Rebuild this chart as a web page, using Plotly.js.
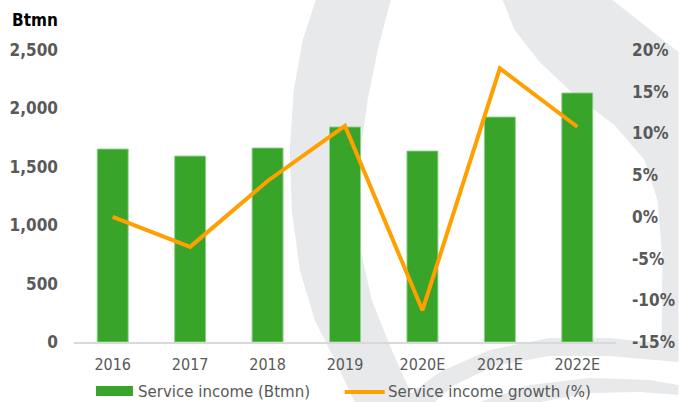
<!DOCTYPE html>
<html>
<head>
<meta charset="utf-8">
<script src="https://cdn.plot.ly/plotly-3.0.1.min.js"></script>
<style>html,body{margin:0;padding:0;background:#fff;}#chart{width:679px;height:402px;}</style>
</head>
<body>
<div id="chart"></div>
<script>
// ---- data ----
const years = ['2016', '2017', '2018', '2019', '2020E', '2021E', '2022E'];
const serviceIncome = [1652, 1592, 1661, 1841, 1635, 1926, 2132];   // Btmn
const serviceGrowth = [0.0, -3.6, 4.3, 10.9, -11.2, 17.8, 10.8];    // %
const seriesNames = ['Service income (Btmn)', 'Service income growth (%)'];
const leftTicks = [0, 500, 1000, 1500, 2000, 2500];
const leftTickText = ['0', '500', '1,000', '1,500', '2,000', '2,500'];
const rightTicks = [-15, -10, -5, 0, 5, 10, 15, 20];
const rightTickText = ['-15%', '-10%', '-5%', '0%', '5%', '10%', '15%', '20%'];
const unitLabel = 'Btmn';

// ---- geometry helpers (pixel -> paper) ----
const W = 679, H = 402;
const M = {l: 74, r: 62.5, t: 50, b: 60};
const pw = W - M.l - M.r, ph = H - M.t - M.b;
const px = x => (x - M.l) / pw;
const py = y => (H - M.b - y) / ph;
function poly(pts) {
  return pts.map((p, i) => (i ? 'L' : 'M') + px(p[0]).toFixed(4) + ',' + py(p[1]).toFixed(4)).join(' ') + ' Z';
}
const wm = '#e8e9eb';
const wmShapes = [
  [[316,0],[303,40],[294,90],[290,150],[292,210],[300,270],[315,320],[335,360],[355,402],
   [415,402],[392,350],[372,300],[361,250],[358,200],[361,150],[368,100],[378,50],[391,0]],
  [[503,0],[613,0],[679,52],[679,352],[662,352],[663,260],[658,200],[645,160],[615,125],[575,95],[540,62],[515,30]],
  [[400,402],[440,372],[490,350],[550,338],[610,338],[679,345],[679,362],[610,356],[550,356],[495,366],[455,385],[435,402]],
  [[480,402],[530,385],[590,378],[650,380],[679,385],[679,395],[640,392],[590,393],[540,402]]
].map(p => ({type: 'path', xref: 'paper', yref: 'paper', path: poly(p), fillcolor: wm, line: {width: 0}, layer: 'below'}));

// legend drawn manually
const legendShapes = [
  {type: 'rect', xref: 'paper', yref: 'paper', x0: px(96), x1: px(133), y0: py(396), y1: py(386),
   fillcolor: '#38a52a', line: {width: 0}},
  {type: 'line', xref: 'paper', yref: 'paper', x0: px(345), x1: px(385), y0: py(392), y1: py(392),
   line: {color: '#ff9f00', width: 4}}
];

const tickFont = {family: 'DejaVu Sans Condensed', size: 17, color: '#595959', weight: 'bold'};

const traces = [
  {type: 'bar', x: years, y: serviceIncome, name: seriesNames[0],
   marker: {color: '#38a52a', line: {color: 'rgba(140,210,140,0.9)', width: 1}}, yaxis: 'y',
   hoverinfo: 'skip'},
  {type: 'scatter', mode: 'lines', x: years, y: serviceGrowth, name: seriesNames[1],
   line: {color: '#ff9f00', width: 4}, yaxis: 'y2', hoverinfo: 'skip'}
];

const layout = {
  width: W, height: H,
  margin: M,
  paper_bgcolor: '#ffffff', plot_bgcolor: 'rgba(0,0,0,0)',
  showlegend: false,
  bargap: 0.6,
  xaxis: {type: 'category', showline: true, linecolor: '#d9d9d9', linewidth: 2, ticks: '',
          tickfont: {family: 'DejaVu Sans Condensed', size: 16, color: '#595959'},
          ticklabelstandoff: 7, fixedrange: true},
  yaxis: {range: [0, 2500], tickmode: 'array', tickvals: leftTicks, ticktext: leftTickText,
          showgrid: false, zeroline: false,
          showline: false, ticks: '', tickfont: tickFont, ticklabelstandoff: 15},
  yaxis2: {range: [-15, 20], tickmode: 'array', tickvals: rightTicks, ticktext: rightTickText,
           overlaying: 'y', side: 'right',
           showgrid: false, zeroline: false, showline: false, ticks: '', tickfont: tickFont,
           ticklabelstandoff: 15},
  shapes: wmShapes.concat(legendShapes),
  annotations: [
    {xref: 'paper', yref: 'paper', x: px(10), y: py(19.5), xanchor: 'left', yanchor: 'middle',
     text: '<b>' + unitLabel + '</b>', showarrow: false,
     font: {family: 'DejaVu Sans Condensed', size: 17, color: '#000000'}},
    {xref: 'paper', yref: 'paper', x: px(136), y: py(391), xanchor: 'left', yanchor: 'middle',
     text: seriesNames[0], showarrow: false,
     font: {family: 'DejaVu Sans Condensed', size: 16.7, color: '#595959'}},
    {xref: 'paper', yref: 'paper', x: px(386), y: py(391), xanchor: 'left', yanchor: 'middle',
     text: seriesNames[1], showarrow: false,
     font: {family: 'DejaVu Sans Condensed', size: 16.7, color: '#595959'}}
  ]
};

Plotly.newPlot('chart', traces, layout, {staticPlot: true, displayModeBar: false});
</script>
</body>
</html>
